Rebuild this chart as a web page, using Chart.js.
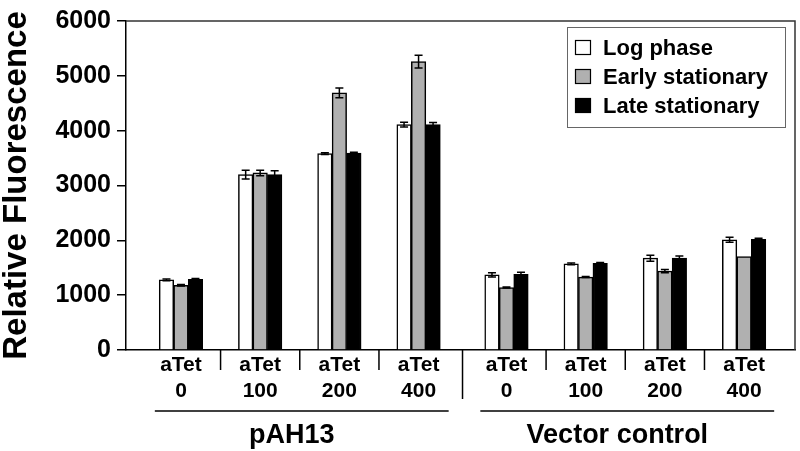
<!DOCTYPE html>
<html>
<head>
<meta charset="utf-8">
<script src="https://cdn.jsdelivr.net/npm/chart.js@4"></script>
<style>
  body { margin: 0; background: #fff; }
  #wrap { width: 800px; height: 451px; }
</style>
</head>
<body>
<div id="wrap"><canvas id="myChart" width="800" height="451"></canvas></div>
<script>
const plasmids = ['pAH13', 'Vector control']
const doses = ['0', '100', '200', '400', '0', '100', '200', '400']
const phases = ['Log phase', 'Early stationary', 'Late stationary']

const logPhase = [1280, 3200, 3580, 4110, 1370, 1570, 1675, 2010]
const earlyStat = [1180, 3230, 4690, 5260, 1140, 1330, 1440, 1705]
const lateStat = [1290, 3200, 3590, 4110, 1380, 1580, 1675, 2020]

const logErr = [15, 80, 15, 45, 40, 15, 55, 45]
const earlyErr = [15, 50, 90, 115, 10, 10, 30, 0]
const lateErr = [15, 70, 15, 40, 40, 15, 40, 20]

const yTicks = [0, 1000, 2000, 3000, 4000, 5000, 6000]

// slot of each group on the x axis (a small gap between the two plasmids)
const slots = [0, 1, 2, 3, 4.11, 5.11, 6.11, 7.11]

const colors = ['#ffffff', '#b0b0b0', '#000000']
const errs = [logErr, earlyErr, lateErr]
const values = [logPhase, earlyStat, lateStat]
const FONT = '"Liberation Sans", Arial, sans-serif'

Chart.defaults.font.family = FONT
Chart.defaults.color = '#000'

const extras = {
  id: 'extras',
  afterDatasetsDraw(chart) {
    const ctx = chart.ctx
    const y = chart.scales.y
    ctx.save()
    ctx.strokeStyle = '#000'
    ctx.lineWidth = 1.5
    chart.data.datasets.forEach((ds, i) => {
      chart.getDatasetMeta(i).data.forEach((bar, j) => {
        const e = errs[i][j]
        if (!e) return
        const v = ds.data[j].y
        const top = y.getPixelForValue(v + e)
        const bot = y.getPixelForValue(v - e)
        ctx.beginPath()
        ctx.moveTo(bar.x, top); ctx.lineTo(bar.x, bot)
        ctx.moveTo(bar.x - 4, top); ctx.lineTo(bar.x + 4, top)
        ctx.moveTo(bar.x - 4, bot); ctx.lineTo(bar.x + 4, bot)
        ctx.stroke()
      })
    })
    ctx.restore()
  },
  afterDraw(chart) {
    const ctx = chart.ctx
    const x = chart.scales.x
    const a = chart.chartArea
    ctx.save()

    // top and right frame
    ctx.strokeStyle = '#333'
    ctx.lineWidth = 1.5
    ctx.beginPath()
    ctx.moveTo(a.left, a.top); ctx.lineTo(a.right, a.top); ctx.lineTo(a.right, a.bottom)
    ctx.stroke()

    // separators between groups
    ctx.strokeStyle = '#000'
    for (let i = 0; i < slots.length - 1; i++) {
      const px = x.getPixelForValue((slots[i] + slots[i + 1]) / 2)
      const long = i === 3
      ctx.beginPath()
      ctx.moveTo(px, a.bottom); ctx.lineTo(px, a.bottom + (long ? 49 : 20))
      ctx.stroke()
    }

    // plasmid underlines and names
    ctx.font = 'bold 27px ' + FONT
    ctx.fillStyle = '#000'
    ctx.textAlign = 'center'
    ctx.textBaseline = 'alphabetic'
    plasmids.forEach((name, g) => {
      const first = slots[g * 4], last = slots[g * 4 + 3]
      ctx.beginPath()
      ctx.moveTo(x.getPixelForValue(first - 0.33), a.bottom + 61)
      ctx.lineTo(x.getPixelForValue(last + 0.38), a.bottom + 61)
      ctx.stroke()
      ctx.fillText(name, x.getPixelForValue((first + last) / 2 - 0.1), a.bottom + 93)
    })

    // legend
    const lx = 567, ly = 27
    ctx.strokeStyle = '#666'
    ctx.lineWidth = 1
    ctx.strokeRect(lx + 0.5, ly + 0.5, 218, 100)
    ctx.font = 'bold 22px ' + FONT
    ctx.textAlign = 'left'
    phases.forEach((p, i) => {
      const base = 55 + i * 29
      ctx.fillStyle = colors[i]
      ctx.fillRect(575, base - 15, 16, 15)
      ctx.strokeStyle = '#000'
      ctx.lineWidth = 1.2
      ctx.strokeRect(575.5, base - 14.5, 15, 14)
      ctx.fillStyle = '#000'
      ctx.fillText(p, 603, base)
    })
    ctx.restore()
  }
}

const ctx = document.getElementById('myChart').getContext('2d')
const myChart = new Chart(ctx, {
  type: 'bar',
  data: {
    datasets: phases.map((p, i) => ({
      label: p,
      data: slots.map((s, j) => ({ x: s, y: values[i][j] })),
      backgroundColor: colors[i],
      borderColor: '#000',
      borderWidth: 1.5,
      barThickness: 14.5
    }))
  },
  options: {
    responsive: false,
    animation: false,
    layout: { padding: { left: 0, right: 5, top: 20, bottom: 0 } },
    plugins: {
      legend: { display: false },
      tooltip: { enabled: false }
    },
    scales: {
      x: {
        type: 'linear',
        offset: false,
        min: -0.694,
        max: 7.753,
        afterFit: s => { s.height = 101 },
        afterBuildTicks: s => { s.ticks = slots.map(v => ({ value: v })) },
        grid: { display: false, drawTicks: false },
        border: { display: true, color: '#000', width: 1.5 },
        ticks: {
          autoSkip: false,
          maxRotation: 0,
          minRotation: 0,
          padding: 3,
          font: { size: 21, weight: 'bold', lineHeight: 1.2 },
          callback: (v, i) => ['aTet', doses[i]]
        }
      },
      y: {
        min: 0,
        max: 6000,
        afterFit: s => { s.width = 126 },
        afterBuildTicks: s => { s.ticks = yTicks.map(v => ({ value: v })) },
        grid: { drawOnChartArea: false, tickLength: 9, color: '#000', lineWidth: 1.5 },
        border: { display: true, color: '#000', width: 1.5 },
        ticks: {
          padding: 6,
          font: { size: 25, weight: 'bold' },
          callback: v => String(v)
        },
        title: {
          display: true,
          text: 'Relative Fluorescence',
          padding: 0,
          font: { size: 33, weight: 'bold', lineHeight: 1 }
        }
      }
    }
  },
  plugins: [extras]
})
</script>
</body>
</html>
